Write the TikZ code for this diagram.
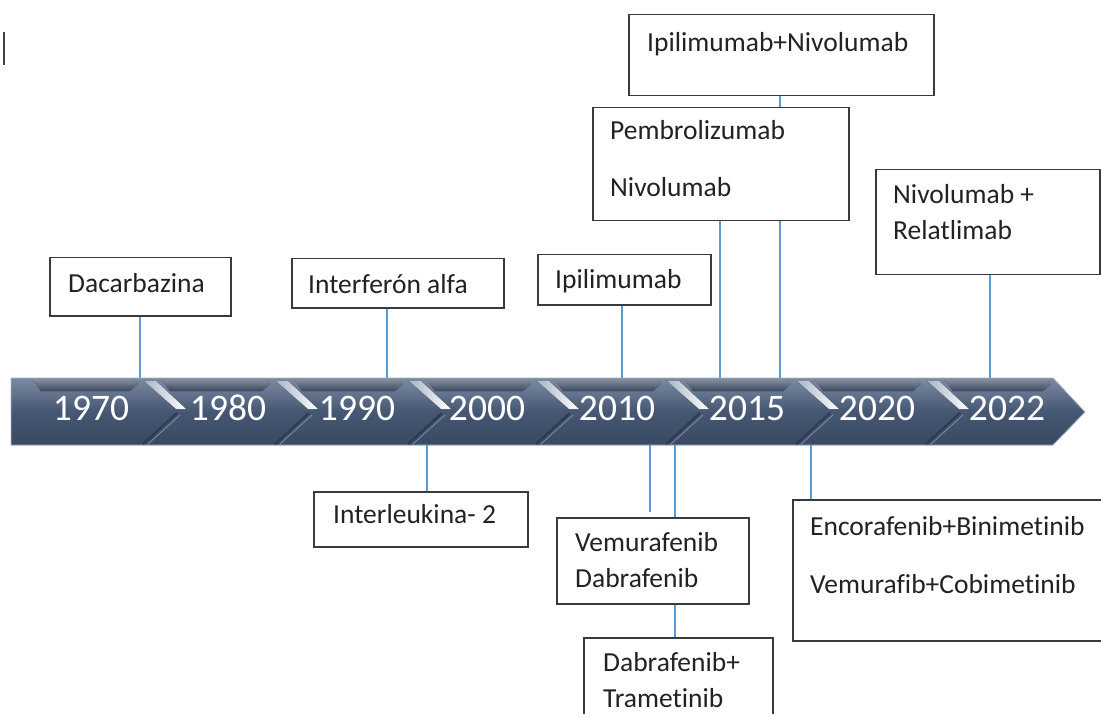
\documentclass[tikz,border=0pt]{standalone}
\usepackage{fontspec}
\setmainfont{Carlito}[Ligatures=NoCommon]
\usetikzlibrary{calc, positioning}

\definecolor{boxline}{HTML}{3A3A3A}
\definecolor{txtcol}{HTML}{222222}
\definecolor{connblue}{HTML}{5B9BD5}
\definecolor{bartop}{HTML}{7C8BA3}
\definecolor{barmid}{HTML}{465773}
\definecolor{barbot}{HTML}{394963}
\definecolor{bardark}{HTML}{2E3C52}
\definecolor{barlight}{HTML}{A9B6C8}

\begin{document}
\begin{tikzpicture}[x=1pt, y=-1pt,
    box/.style={draw=boxline, line width=1.5pt, fill=white, rectangle, inner sep=0pt, anchor=north west},
    lbl/.style={font=\fontsize{27.5}{36}\selectfont, text=txtcol, align=left, inner sep=0pt, anchor=base west},
    conn/.style={draw=connblue, line width=1.4pt},
    yr/.style={font=\fontsize{37.5}{37.5}\selectfont, text=white, inner sep=0pt, anchor=base}]

  % page
  \clip (0,0) rectangle (1101,714);
  \fill[white] (0,0) rectangle (1101,714);
  \draw[line width=2pt, black!75] (4,32) -- (4,65);

  % points on the bar
  \coordinate (t1) at (140,378);
  \coordinate (t2) at (387,378);
  \coordinate (t3) at (622,378);
  \coordinate (t4) at (720,378);
  \coordinate (t5) at (780,378);
  \coordinate (t6) at (990,378);
  \coordinate (b1) at (427,445);
  \coordinate (b2) at (650,445);
  \coordinate (b3) at (675,445);
  \coordinate (b4) at (811,445);

  % boxes (empty, text comes after)
  \node[box, minimum width=181pt, minimum height=58pt] (dac) at (49,257) {};
  \node[box, minimum width=212pt, minimum height=49pt] (ifn) at (291,258) {};
  \node[box, minimum width=173pt, minimum height=50pt] (ipi) at (537,254) {};
  \node[box, minimum width=305pt, minimum height=81pt] (ipn) at (628,14) {};
  \node[box, minimum width=224pt, minimum height=105pt] (rel) at (875,169) {};
  \node[box, minimum width=214pt, minimum height=55pt] (il2) at (313,491) {};
  \node[box, minimum width=192pt, minimum height=86pt] (vem) at (556,517) {};
  \node[box, minimum width=189pt, minimum height=100pt] (dtr) at (583,637) {};
  \node[box, minimum width=330pt, minimum height=141pt] (enc) at (792,499) {};

  % connectors
  \draw[conn] (dac.south -| t1) -- (t1);
  \draw[conn] (ifn.south -| t2) -- (t2);
  \draw[conn] (ipi.south -| t3) -- (t3);
  \draw[conn] (ipn.south -| t5) -- (t5);
  \draw[conn] (rel.south -| t6) -- (t6);
  \draw[conn] (b1) -- (b1 |- il2.north);
  \draw[conn, shorten >=5pt] (b2) -- (b2 |- vem.north);
  \draw[conn] (b3) -- (b3 |- vem.north);
  \draw[conn] (vem.south -| b3) -- (b3 |- dtr.north);
  \draw[conn] (b4) -- (b4 |- enc.north);

  % this box sits over the 780 line
  \node[box, minimum width=256pt, minimum height=113pt] (pem) at (592,107) {};
  \draw[conn] (pem.south -| t4) -- (t4);
  \draw[conn] (pem.south -| t5) -- (t5);

  % texts (base = last line)
  \node[lbl] (dactxt) at ($(dac.north west)+(19,35)$) {Dacarbazina};
  \node[lbl] (ifntxt) at ($(ifn.north west)+(17,36)$) {Interferón alfa};
  \node[lbl] (ipitxt) at ($(ipi.north west)+(18,34)$) {Ipilimumab};
  \node[lbl] (ipntxt) at ($(ipn.north west)+(19,38)$) {Ipilimumab+Nivolumab};
  \node[lbl] (pemtxt) at ($(pem.north west)+(18,90)$) {Pembrolizumab\\[21pt]Nivolumab};
  \node[lbl] (reltxt) at ($(rel.north west)+(18,71)$) {Nivolumab +\\Relatlimab};
  \node[lbl] (il2txt) at ($(il2.north west)+(20,32)$) {Interleukina- 2};
  \node[lbl] (vemtxt) at ($(vem.north west)+(19,70)$) {Vemurafenib\\Dabrafenib};
  \node[lbl] (dtrtxt) at ($(dtr.north west)+(20,70)$) {Dabrafenib+\\Trametinib};
  \node[lbl] (enctxt) at ($(enc.north west)+(18,94)$) {Encorafenib+Binimetinib\\[22pt]Vemurafib+Cobimetinib};

  % timeline bar
  \fill[top color=bartop, bottom color=barbot, middle color=barmid]
    (11,378) -- (1053,378) -- (1085,412) -- (1053,445) -- (11,445) -- cycle;
  \draw[barlight, line width=0.8pt]
    (11,378) -- (1053,378) -- (1085,412) -- (1053,445) -- (11,445) -- cycle;
  % top bevel of each segment
  \foreach \sl/\sr in {11/140, 140/272, 272/405, 405/533, 533/663, 663/793, 793/923, 923/1053}
    \fill[top color=barlight, bottom color=barmid, opacity=0.7]
      (\sl+22,380) -- (\sr-6,380) -- (\sr-2,384) -- (\sr-10,391) -- (\sl+30,391) -- cycle;
  % chevrons
  \foreach \bx in {140, 272, 405, 533, 663, 793, 923} {
    \draw[bardark, line width=2.2pt] (\bx+37,413) -- (\bx+3,444);
    \draw[barlight!60!barmid, line width=0.8pt] (\bx+40,415) -- (\bx+8,444);
    \fill[left color=barlight, right color=white]
      (\bx+4,381) -- (\bx+16,381) -- (\bx+46,409) -- (\bx+36,409) -- cycle;
  }
  \foreach \yx/\yl in {91/1970, 228/1980, 357/1990, 487/2000, 617/2010, 747/2015, 877/2020, 1007/2022}
    \node[yr] (y\yl) at (\yx,420) {\yl};
\end{tikzpicture}
\end{document}
